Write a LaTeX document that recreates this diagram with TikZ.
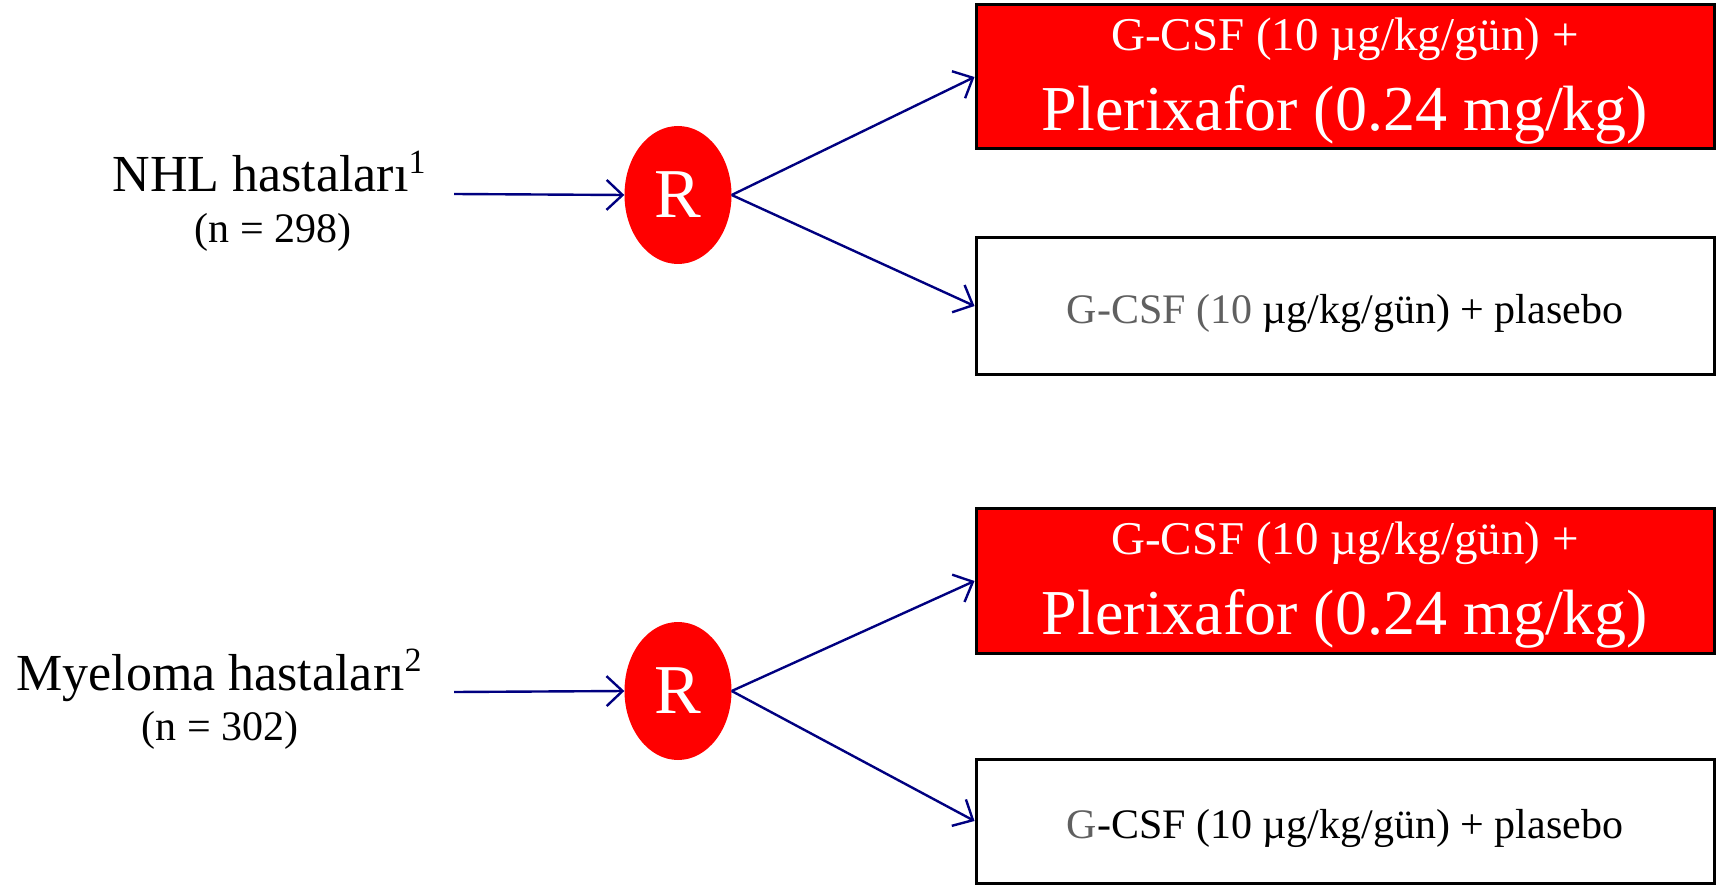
\documentclass[tikz,border=0pt]{standalone}
\usepackage{fontspec}
\setmainfont{Liberation Serif}
\usetikzlibrary{arrows.meta,shapes.geometric}
\definecolor{navyline}{RGB}{0,0,128}
\definecolor{armred}{RGB}{255,0,0}
\definecolor{softgray}{RGB}{96,96,96}
\newcommand{\fs}[1]{\fontsize{#1}{#1}\selectfont}
\newcommand{\supnum}[1]{\raisebox{0.36em}{\fs{34}#1}}
\begin{document}
\begin{tikzpicture}[x=1pt,y=-1pt,
  arr/.style={draw=navyline,line width=2.4pt,-{Straight Barb[length=16pt,width=30pt,line width=2.4pt]}},
  rnode/.style={ellipse,fill=armred,minimum width=107pt,minimum height=138pt,inner sep=0pt,text=white,font=\fs{70}},
  redbox/.style={draw=black,line width=3pt,fill=armred,minimum width=738pt,inner sep=0pt},
  whitebox/.style={draw=black,line width=3pt,fill=white,minimum width=738pt,inner sep=0pt},
  armtext/.style={align=center,inner sep=0pt},
  grp/.style={align=center,inner sep=0pt}
]
\useasboundingbox (0,0) rectangle (1718,885);

% study groups
\node[grp,anchor=base] (nhl) at (269,192) {\fs{52}NHL hastaları\supnum{1}};
\node[grp,anchor=base] (nhln) at (273,243) {\fs{42}(n = 298)};
\node[grp,anchor=base] (mm) at (219,690) {\fs{52}Myeloma hastaları\supnum{2}};
\node[grp,anchor=base] (mmn) at (220,740) {\fs{42}(n = 302)};

% randomisation nodes
\node[rnode] (r1) at (678,195) {R};
\node[rnode] (r2) at (678,691) {R};

% treatment arms (text nodes sit slightly below each box centre)
\node[redbox,minimum height=144pt] (b1) at (1345,77) {};
\node[armtext,text=white] (t1) at ([yshift=-4pt]b1.center)
  {\fs{47}G-CSF (10 µg/kg/gün) +\\[24pt]\fs{64}Plerixafor (0.24 mg/kg)};
\node[whitebox,minimum height=137pt] (b2) at (1345,306) {};
\node[armtext] (t2) at ([yshift=-7pt]b2.center)
  {\fs{42}\textcolor{softgray}{G-CSF (10} µg/kg/gün) + plasebo};
\node[redbox,minimum height=145pt] (b3) at (1345,581) {};
\node[armtext,text=white] (t3) at ([yshift=-4pt]b3.center)
  {\fs{47}G-CSF (10 µg/kg/gün) +\\[24pt]\fs{64}Plerixafor (0.24 mg/kg)};
\node[whitebox,minimum height=124pt] (b4) at (1345,821) {};
\node[armtext] (t4) at ([yshift=-7pt]b4.center)
  {\fs{42}\textcolor{softgray}{G}-CSF (10 µg/kg/gün) + plasebo};

% connectors
\coordinate (s1) at (454,194);
\coordinate (s2) at (454,692);
\draw[arr] (s1) -- (r1.west);
\draw[arr] (s2) -- (r2.west);
\draw[arr] (r1.east) -- (b1.west);
\draw[arr] (r1.east) -- (b2.west);
\draw[arr] (r2.east) -- (b3.west);
\draw[arr] (r2.east) -- (b4.west);
\end{tikzpicture}
\end{document}
